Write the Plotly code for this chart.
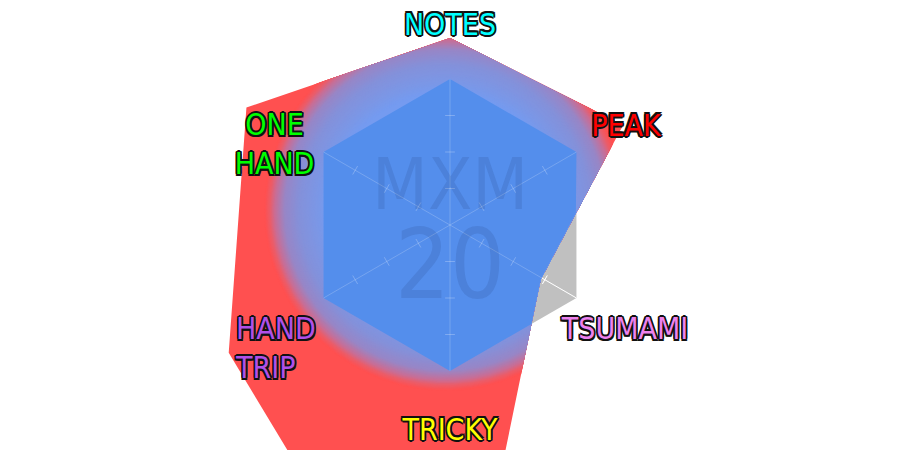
import numpy as np
import plotly.graph_objects as go

# ---------------- data ----------------
categories = ["NOTES", "PEAK", "TSUMAMI", "TRICKY", "HAND TRIP", "ONE HAND"]
label_text = ["NOTES", "PEAK", "TSUMAMI", "TRICKY", "HAND<br>TRIP", "ONE<br>HAND"]
values = [128, 137, 72, 339, 175, 161]
axis_max = 100
tick_values = [25, 50, 75]
watermark_lines = ["MXM", "20"]

# ---------------- style ----------------
W, H = 900, 450
PX_PER_UNIT = 1.46          # radar radius (axis_max) = 146 px
label_colors = ["#00ffff", "#ff0000", "#ee82ee", "#ffff00", "#b050e8", "#00ff00"]
label_r = [135.3, 137.5, 140.3, 142.1, 170.1, 131.5]
label_theta = [0, 61.26, 121.33, 180, 239.5, 293.96]
label_pos = ["middle center", "middle center", "middle center", "middle center",
             "middle right", "middle center"]
FONT = "DejaVu Sans Condensed, DejaVu Sans, sans-serif"
OUTLINE = ("-1.5px -1.5px 0 #111, 1.5px -1.5px 0 #111, -1.5px 1.5px 0 #111,"
           " 1.5px 1.5px 0 #111, 0 1.6px 0 #111, 1.6px 0 0 #111, 0 -1.6px 0 #111,"
           " -1.6px 0 0 #111")
grid_bg = "#c0c0c0"
inner_fill = "#548eec"
outer_fill = "rgb(255,80,80)"
# radial gradient of the area (distance in radial-axis units from gradient centre)
grad_center = (-3.4, 10.3)
grad_d = [80, 86, 100, 110, 116.5, 120, 123.5]
grad_rgb = [(117, 155, 240), (122, 152, 232), (132, 145, 218), (152, 134, 198),
            (200, 110, 150), (235, 92, 105), (255, 80, 80)]

n = len(categories)
step = 360.0 / n
cat_angles = np.arange(n) * step           # clockwise from the top
theta_s = np.arange(0, 360.0001, 0.5)


def to_xy(r, th_deg):
    t = np.deg2rad(np.asarray(th_deg, dtype=float))
    r = np.asarray(r, dtype=float)
    return r * np.sin(t), r * np.cos(t)


def star_radius(vals, th_deg):
    vals = np.asarray(vals, dtype=float)
    idx = np.floor(th_deg / step).astype(int) % n
    nxt = (idx + 1) % n
    p1x, p1y = to_xy(vals[idx], cat_angles[idx])
    p2x, p2y = to_xy(vals[nxt], cat_angles[nxt])
    ux, uy = to_xy(np.ones_like(th_deg), th_deg)
    num = p1x * p2y - p1y * p2x
    den = ux * (p2y - p1y) - uy * (p2x - p1x)
    return num / den


def circle_radius(rho, th_deg):
    ux, uy = to_xy(np.ones_like(th_deg), th_deg)
    uc = ux * grad_center[0] + uy * grad_center[1]
    c2 = grad_center[0] ** 2 + grad_center[1] ** 2
    return uc + np.sqrt(uc ** 2 - c2 + rho ** 2)


def grad_color(d):
    arr = np.array(grad_rgb, dtype=float)
    c = [np.interp(d, grad_d, arr[:, k]) for k in range(3)]
    return "rgb(%d,%d,%d)" % tuple(int(round(v)) for v in c)


def area(x, y, color):
    return go.Scatter(x=x, y=y, mode="lines", line=dict(width=0), fill="toself",
                      fillcolor=color, hoverinfo="skip", showlegend=False)


r_poly = star_radius(values, theta_s)
r_hex = star_radius([axis_max] * n, theta_s)

fig = go.Figure()

# grid: grey hexagon, white spokes and ticks
hx, hy = to_xy([axis_max] * (n + 1), list(cat_angles) + [0])
fig.add_trace(area(hx, hy, grid_bg))
sp_x, sp_y = [], []
for a in cat_angles:
    ex, ey = to_xy(axis_max, a)
    sp_x += [0, float(ex), None]
    sp_y += [0, float(ey), None]
tick_r = [v for a in cat_angles for v in tick_values]
tick_a = [a for a in cat_angles for v in tick_values]
tx, ty = to_xy(tick_r, tick_a)


def spokes(color):
    return go.Scatter(x=sp_x, y=sp_y, mode="lines", line=dict(color=color, width=1),
                      hoverinfo="skip", showlegend=False)


def ticks(color):
    return go.Scatter(x=tx, y=ty, mode="markers",
                      marker=dict(symbol="line-ew", size=7, angle=tick_a,
                                  line=dict(color=color, width=1)),
                      hoverinfo="skip", showlegend=False)


fig.add_trace(spokes("white"))
fig.add_trace(ticks("white"))

# the data area (outer colour), then gradient rings towards the centre
px_, py_ = to_xy(values + values[:1], list(cat_angles) + [0])
fig.add_trace(area(px_, py_, outer_fill))
for rho in np.arange(124.0, 79.0, -0.6):
    rr = np.minimum(r_poly, circle_radius(rho, theta_s))
    x, y = to_xy(rr, theta_s)
    fig.add_trace(area(x, y, grad_color(rho - 0.3)))

# part of the area inside the grid hexagon
x, y = to_xy(np.minimum(r_poly, r_hex), theta_s)
fig.add_trace(area(x, y, inner_fill))

# faint grid seen through the area
fig.add_trace(spokes("rgba(255,255,255,0.2)"))
fig.add_trace(ticks("rgba(255,255,255,0.25)"))

# axis names
lx, ly = to_xy(label_r, label_theta)
fig.add_trace(go.Scatter(
    x=lx, y=ly, mode="text", text=label_text, textposition=label_pos,
    textfont=dict(family=FONT, size=30, color=label_colors, shadow=OUTLINE),
    hoverinfo="skip", showlegend=False, cliponaxis=False))

xr = W / 2 / PX_PER_UNIT
yr = H / 2 / PX_PER_UNIT
fig.update_layout(
    width=W, height=H, autosize=False,
    margin=dict(l=0, r=0, t=0, b=0),
    paper_bgcolor="white", plot_bgcolor="white",
    showlegend=False,
    xaxis=dict(range=[-xr, xr], visible=False, fixedrange=True),
    yaxis=dict(range=[-yr, yr], visible=False, fixedrange=True),
    annotations=[
        dict(text=watermark_lines[0], x=0, y=(225 - 184) / PX_PER_UNIT,
             xanchor="center", yanchor="middle", showarrow=False,
             font=dict(family=FONT, size=72, color="rgba(10,20,60,0.1)")),
        dict(text=watermark_lines[1], x=0, y=(225 - 265) / PX_PER_UNIT,
             xanchor="center", yanchor="middle", showarrow=False,
             font=dict(family=FONT, size=96, color="rgba(10,20,60,0.1)")),
    ],
)

fig.write_html("out.html")
